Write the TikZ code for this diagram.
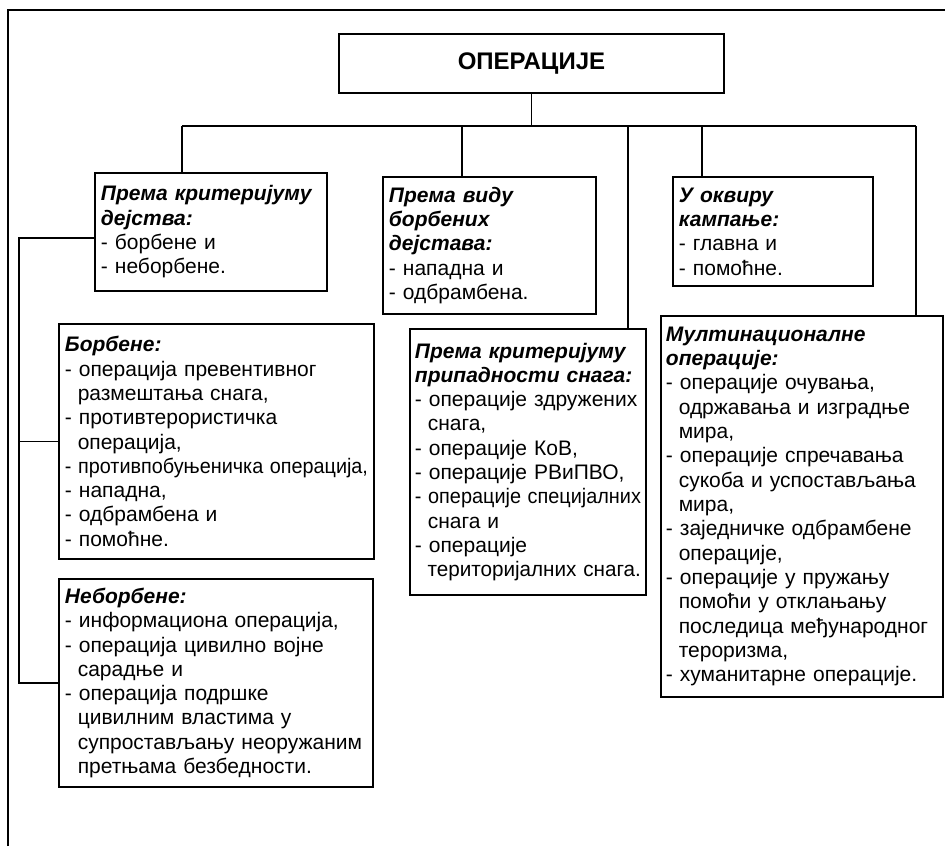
\documentclass[tikz,border=0pt]{standalone}
\usepackage{fontspec}
\setmainfont{Liberation Sans}
\usepackage{graphicx}
\usetikzlibrary{positioning}

\newcommand{\hd}[1]{\textbf{\textit{#1}}}
\newcommand{\ind}{\hspace*{0.61em}}
% shrink a line to the box width only when it is too wide
\newcommand{\fit}[1]{\sbox0{#1}\ifdim\wd0>\linewidth\resizebox{\linewidth}{\height}{\usebox0}\else\usebox0\fi}

\tikzset{
  box/.style={draw, line width=1.9pt, anchor=north west, align=left,
    inner xsep=6pt, inner ysep=4pt, font=\fontsize{21}{24.3}\selectfont},
  link/.style={line width=1.7pt}
}

\begin{document}
\begin{tikzpicture}[x=1pt,y=-1pt]
    \useasboundingbox (0,0) rectangle (945,846);
    % frame
    \draw[link] (8,846) -- (8,10) -- (945,10);

    \node[box, align=center, minimum width=385pt, minimum height=59pt,
      font=\fontsize{24}{28}\selectfont\bfseries] (0) at (338,33) {ОПЕРАЦИЈЕ};

    \node[box, text width=220pt, minimum height=118pt] (1) at (94,172)
      {\hd{Према критеријуму}\\ \hd{дејства:}\\ - борбене и\\ - неборбене.};
    \node[box, text width=201pt, minimum height=137pt] (2) at (382,176)
      {\hd{Према виду}\\ \hd{борбених}\\ \hd{дејстава:}\\ - нападна и\\ - одбрамбена.};
    \node[box, text width=188pt, minimum height=109pt] (3) at (672,176)
      {\hd{У оквиру}\\ \hd{кампање:}\\ - главна и\\ - помоћне.};
    \node[box, text width=303pt, minimum height=235pt] (4) at (58,323)
      {\hd{Борбене:}\\ \fit{- операција превентивног}\\ \ind размештања снага,\\
       - противтерористичка\\ \ind операција,\\ \fit{- противпобуњеничка операција,}\\
       - нападна,\\ - одбрамбена и\\ - помоћне.};
    \node[box, text width=302pt, minimum height=208pt] (5) at (58,578)
      {\hd{Неборбене:}\\ \fit{- информациона операција,}\\ \fit{- операција цивилно војне}\\
       \ind сарадње и\\ - операција подршке\\ \ind цивилним властима у\\
       \fit{\ind супростављању неоружаним}\\ \fit{\ind претњама безбедности.}};
    \node[box, inner xsep=5pt, text width=226pt, minimum height=266pt] (6) at (409,328)
      {\fit{\hd{Према критеријуму}}\\ \fit{\hd{припадности снага:}}\\ \fit{- операције здружених}\\
       \ind снага,\\ - операције КоВ,\\ - операције РВиПВО,\\
       \fit{- операције специјалних}\\ \ind снага и\\ - операције\\
       \fit{\ind територијалних снага.}};
    \node[box, inner xsep=5pt, text width=272pt, minimum height=381pt] (7) at (660,315)
      {\hd{Мултинационалне}\\ \hd{операције:}\\ - операције очувања,\\
       \fit{\ind одржавања и изградње}\\ \ind мира,\\ \fit{- операције спречавања}\\
       \fit{\ind сукоба и успостављања}\\ \ind мира,\\ \fit{- заједничке одбрамбене}\\
       \ind операције,\\ \fit{- операције у пружању}\\ \fit{\ind помоћи у отклањању}\\
       \fit{\ind последица међународног}\\ \ind тероризма,\\ \fit{- хуманитарне операције.}};

    % tree
    \coordinate (t1) at (182,126);
    \coordinate (t2) at (462,126);
    \coordinate (t3) at (702,126);
    \coordinate (t6) at (628,126);
    \coordinate (t7) at (916,126);
    \coordinate (l) at (19,238);
    \draw[link] (0.south) -- (0.south |- t1);
    \draw[link] (t1) -- (t7);
    \draw[link] (t1) -- (t1 |- 1.north);
    \draw[link] (t2) -- (t2 |- 2.north);
    \draw[link] (t3) -- (t3 |- 3.north);
    \draw[link] (t6) -- (t6 |- 6.north);
    \draw[link] (t7) -- (t7 |- 7.north);
    \draw[link] (l -| 1.west) -- (l) |- (5.west);
    \draw[link] (l |- 4.west) -- (4.west);
\end{tikzpicture}
\end{document}
